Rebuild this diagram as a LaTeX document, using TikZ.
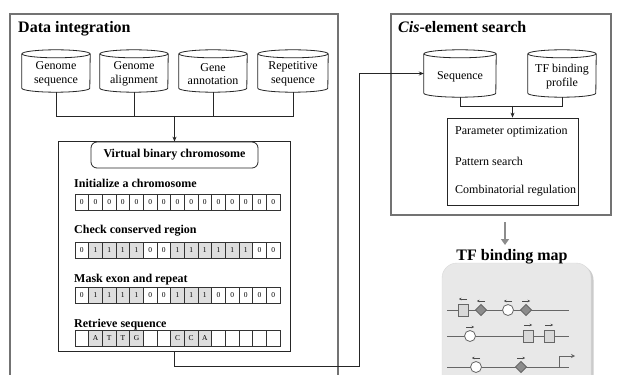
\documentclass[tikz,border=0pt]{standalone}
\usepackage{fontspec}
\setmainfont{Liberation Serif}
\usetikzlibrary{arrows.meta,shadows,calc}
\definecolor{cg}{gray}{0.87}
\newcommand\dbcyl[6]{%
  \path (#2,#3) node[cylbox,minimum width=#4pt,minimum height=#5pt] (#1) {};
  \draw[cylline] ($(#1.north west)+(0,4)$) -- ($(#1.south west)+(0,-4)$)
     arc[start angle=180,end angle=360,x radius=#4/2*1pt,y radius=4pt]
     -- ($(#1.north east)+(0,4)$);
  \draw[cylline] ($(#1.north)+(0,4)$) ellipse [x radius=#4/2*1pt,y radius=4pt];
  \node[cyltext] (#1-t) at ($(#1.center)+(0,3)$) {#6};
}
\newcommand\cellrow[3]{%
  \foreach \t/\f [count=\i] in {#3}
    \node[cell,fill=\f] (#1-\i) at ({75+(\i-0.5)*13.667},#2) {\t};
}
\newcommand\tfarrow[3]{% x, y, dir (+1 right, -1 left)
  \draw[tiny] (#1-#3*4,#2-9) -- (#1+#3*4,#2-9);
}
\begin{document}
\begin{tikzpicture}[x=1pt,y=-1pt,
  frame/.style={draw=black!55,line width=1.6pt},
  title/.style={font=\fontsize{16}{18}\selectfont\bfseries,anchor=base west,inner sep=0},
  cylbox/.style={inner sep=0},
  cyltext/.style={inner sep=0,align=center,font=\fontsize{12}{13.5}\selectfont},
  cylline/.style={draw=black!85,line width=0.8pt},
  conn/.style={draw=black!85,line width=0.8pt},
  arr/.style={conn,-{Stealth[length=5pt,width=4pt]}},
  cell/.style={draw=black!80,line width=0.6pt,minimum width=13.667pt,minimum height=16pt,inner sep=0,font=\fontsize{7.5}{8}\selectfont},
  rowtitle/.style={font=\fontsize{12}{14}\selectfont\bfseries,anchor=base west,inner sep=0},
  steptext/.style={font=\fontsize{12}{14}\selectfont,anchor=base west,inner sep=0},
  track/.style={draw=black!60,line width=1pt},
  tiny/.style={draw=black!70,line width=0.6pt,-{Stealth[length=2.5pt,width=2.6pt]}},
  sq/.style={draw=black!60,line width=0.8pt,fill=black!15,minimum width=10pt,minimum height=12pt,inner sep=0},
  circ/.style={draw=black!60,line width=0.8pt,fill=white,circle,minimum size=11pt,inner sep=0},
  dia/.style={draw=black!60,line width=0.8pt,fill=black!45},
]
\useasboundingbox (0,0) rectangle (617,374);
\fill[white] (0,0) rectangle (617,374);

% ---------- Data integration ----------
\draw[frame] (10,380) -- (10,14) -- (338,14) -- (338,380);
\node[title] (dtitle) at (18,33) {Data integration};

\dbcyl{gs}{56}{71}{68}{42}{Genome\\sequence}
\dbcyl{ga}{134}{71}{68}{42}{Genome\\alignment}
\dbcyl{gn}{213}{71}{68}{42}{Gene\\annotation}
\dbcyl{rs}{293}{71}{70}{42}{Repetitive\\sequence}

\coordinate (bus1) at (0,116);
\draw[conn] (gs.south) |- (rs.south |- bus1) -- (rs.south);
\draw[conn] (ga.south) -- (ga.south |- bus1);
\draw[conn] (gn.south) -- (gn.south |- bus1);

\node[draw=black!85,line width=0.8pt,fill=white,minimum width=232pt,minimum height=210pt,
      drop shadow={shadow xshift=1.2pt,shadow yshift=-1.2pt,fill=black!35,opacity=0.7}] (chrom) at (174,246) {};
\node[draw=black!85,line width=0.8pt,fill=white,rounded corners=6pt,minimum width=167pt,minimum height=26pt,
      font=\fontsize{12}{14}\selectfont\bfseries] (vbc) at (174.5,155) {Virtual binary chromosome};
\draw[arr] (vbc.north |- bus1) -- (vbc.north);

\node[rowtitle] (t1) at (74,187) {Initialize a chromosome};
\cellrow{ra}{202}{0/white,0/white,0/white,0/white,0/white,0/white,0/white,0/white,0/white,0/white,0/white,0/white,0/white,0/white,0/white}
\node[rowtitle] (t2) at (74,233) {Check conserved region};
\cellrow{rb}{250}{0/white,1/cg,1/cg,1/cg,1/cg,0/white,0/white,1/cg,1/cg,1/cg,1/cg,1/cg,1/cg,0/white,0/white}
\node[rowtitle] (t3) at (74,282) {Mask exon and repeat};
\cellrow{rc}{295}{0/white,1/cg,1/cg,1/cg,1/cg,0/white,0/white,1/cg,1/cg,1/cg,0/white,0/white,0/white,0/white,0/white}
\node[rowtitle] (t4) at (74,327) {Retrieve sequence};
\cellrow{rd}{338}{/white,A/cg,T/cg,T/cg,G/cg,/white,/white,C/cg,C/cg,A/cg,/white,/white,/white,/white,/white}

% ---------- Cis-element search ----------
\node[frame,minimum width=220pt,minimum height=201pt] (cisbox) at (501,114.5) {};
\node[title] (ctitle) at (398,33) {\textit{Cis}-element search};

\dbcyl{seq}{460}{73.5}{72}{47}{Sequence}
\dbcyl{tfp}{562}{73.5}{68}{47}{TF binding\\profile}

\coordinate (turn) at (359,366);
\draw[arr] (chrom.south) |- (turn) |- (seq.west);

\node[draw=black!85,line width=0.8pt,fill=white,minimum width=131pt,minimum height=87pt,
      drop shadow={shadow xshift=1pt,shadow yshift=-1pt,fill=black!30,opacity=0.6}] (steps) at (512.5,161.5) {};
\node[steptext] (s1) at (455,135) {Parameter optimization};
\node[steptext] (s2) at (455,165) {Pattern search};
\node[steptext] (s3) at (455,193) {Combinatorial regulation};

\coordinate (bus2) at (0,106);
\draw[conn] (seq.south) |- (tfp.south |- bus2) -- (tfp.south);
\draw[arr] (steps.north |- bus2) -- (steps.north);

% ---------- TF binding map ----------
\coordinate (g1) at (505,222);
\coordinate (g2) at (505,245);
\draw[draw=black!45,line width=2.6pt,-{Triangle[length=6pt,width=8pt]}] (g1) -- (g2);

\node[draw=black!15,fill=black!9,rounded corners=15pt,minimum width=149pt,minimum height=140pt,
      drop shadow={shadow xshift=2.5pt,shadow yshift=-2pt,fill=black!40,opacity=0.5}] (map) at (516.5,333) {};
\node[font=\fontsize{16}{18}\selectfont\bfseries,anchor=base,inner sep=0] (mtitle) at (512,260) {TF binding map};

% track 1
\draw[track] (447,310) -- (569,310);
\node[sq] (a1) at (463,310) {}; \tfarrow{463}{308}{-1}
\draw[dia] (481,304.5) -- (486.5,310) -- (481,315.5) -- (475.5,310) -- cycle; \tfarrow{481}{310}{-1}
\node[circ] (a3) at (508,310) {}; \tfarrow{508}{310}{-1}
\draw[dia] (526,304.5) -- (531.5,310) -- (526,315.5) -- (520.5,310) -- cycle; \tfarrow{526}{310}{1}
% track 2
\draw[track] (447,336) -- (569,336);
\node[circ] (b1) at (470,336) {}; \tfarrow{470}{336}{1}
\node[sq] (b2) at (528,336) {}; \tfarrow{528}{334}{1}
\node[sq] (b3) at (549,336) {}; \tfarrow{549}{334}{1}
% track 3
\draw[track] (447,367) -- (569,367);
\node[circ] (c1) at (476,367) {}; \tfarrow{476}{367}{-1}
\draw[dia] (521,361.5) -- (526.5,367) -- (521,372.5) -- (515.5,367) -- cycle; \tfarrow{521}{367}{1}
\draw[track,-{Stealth[length=4pt,width=4pt]}] (559,367) -- (559,356) -- (575,356);
\end{tikzpicture}
\end{document}
